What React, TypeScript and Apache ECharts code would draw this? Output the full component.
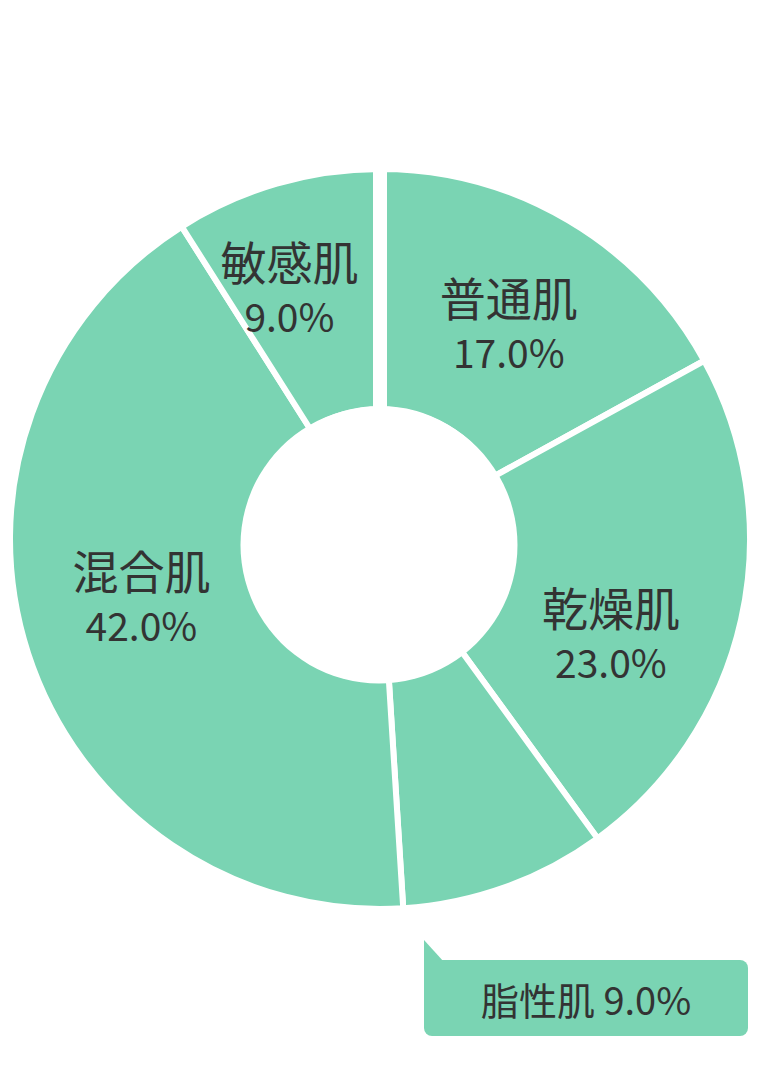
import React, { useEffect, useRef } from "react";
import * as echarts from "echarts";

// skin type survey, clockwise from 12 o'clock
const skinTypes = ["普通肌", "乾燥肌", "脂性肌", "混合肌", "敏感肌"];
const shares = [17, 23, 9, 42, 9];
// this one is too thin for an inside label and gets a callout box
const calloutType = "脂性肌";

// nudges for the inside labels (px), relative to ECharts' mid-ring position
const labelShift: Record<string, [number, number]> = {
  普通肌: [0, 2],
  乾燥肌: [-16, 39],
  混合肌: [2, -21],
  敏感肌: [-20, -9],
};

const GREEN = "#7ad4b3";
const INK = "#333333";
const FONT = '"Noto Sans CJK JP", "Noto Sans", sans-serif';

const App: React.FC = () => {
  const chartRef = useRef<HTMLDivElement>(null);

  useEffect(() => {
    if (!chartRef.current) return;
    const chart = echarts.init(chartRef.current, undefined, { renderer: "svg" });

    const calloutIdx = skinTypes.indexOf(calloutType);
    const calloutText = `${calloutType} ${shares[calloutIdx].toFixed(1)}%`;

    const option: echarts.EChartsOption = {
      animation: false,
      backgroundColor: "#ffffff",
      series: [
        {
          type: "pie",
          center: [380, 539],
          radius: [130, 370],
          startAngle: 90,
          clockwise: true,
          silent: true,
          avoidLabelOverlap: false,
          itemStyle: { color: GREEN, borderColor: "#ffffff", borderWidth: 6 },
          label: {
            show: true,
            position: "inside",
            fontFamily: FONT,
            color: INK,
            formatter: (p: any) => `{n|${p.name}}\n{p|${Number(p.value).toFixed(1)}%}`,
            rich: {
              n: { fontFamily: FONT, fontSize: 46, lineHeight: 55, color: INK },
              p: { fontFamily: FONT, fontSize: 39, lineHeight: 55, color: INK },
            },
          },
          labelLine: { show: false },
          labelLayout: (params: any) => {
            const name = skinTypes[params.dataIndex];
            const s = labelShift[name] || [0, 0];
            return { dx: s[0], dy: s[1] };
          },
          data: skinTypes.map((name, i) => ({
            name,
            value: shares[i],
            label: name === calloutType ? { show: false } : undefined,
          })),
        },
      ],
      graphic: [
        // hole of the donut (sits a few px below the ring centre in the original)
        {
          type: "circle",
          z: 100,
          shape: { cx: 379, cy: 545, r: 138.5 },
          style: { fill: "#ffffff" },
        },
        // wider gap at 12 o'clock
        {
          type: "rect",
          z: 100,
          shape: { x: 373, y: 160, width: 14, height: 260 },
          style: { fill: "#ffffff" },
        },
        // callout for the thin slice
        {
          type: "group",
          z: 100,
          children: [
            {
              type: "polygon",
              shape: { points: [[424, 940], [424, 962], [444, 962]] },
              style: { fill: GREEN },
            },
            {
              type: "rect",
              shape: { x: 424, y: 960, width: 324, height: 76, r: [0, 8, 8, 8] },
              style: { fill: GREEN },
            },
            {
              type: "text",
              x: 586,
              y: 998,
              style: {
                text: calloutText,
                fontFamily: FONT,
                fontSize: 38,
                fill: INK,
                align: "center",
                verticalAlign: "middle",
              },
            },
          ],
        },
      ],
    };

    chart.setOption(option);
    return () => {
      chart.dispose();
    };
  }, []);

  return (
    <div
      ref={chartRef}
      style={{ position: "absolute", left: 0, top: 0, width: "758px", height: "1086px" }}
    />
  );
};

export default App;
